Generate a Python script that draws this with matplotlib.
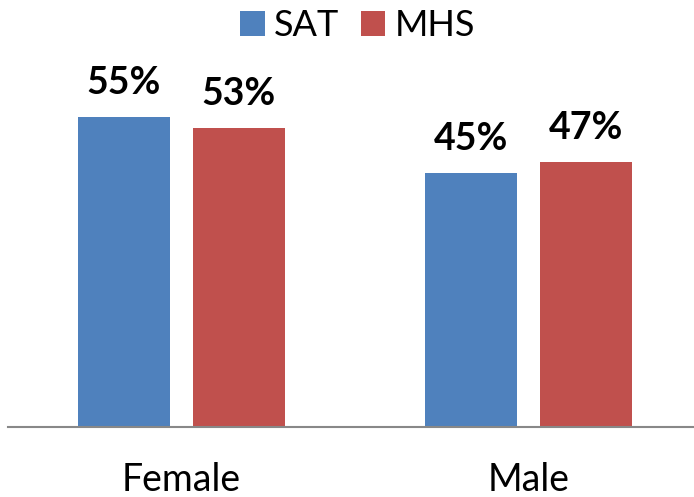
import matplotlib.pyplot as plt
import numpy as np

categories = ['Female', 'Male']
series = ['SAT', 'MHS']
sat = [55, 45]
mhs = [53, 47]
colors = ['#4F81BD', '#C0504D']

plt.rcParams['font.family'] = ['Lato', 'DejaVu Sans']

W, H = 694, 497
fig = plt.figure(figsize=(W / 100, H / 100), dpi=100)
# axes placed in pixel terms: baseline at y=427 px from top
ax = fig.add_axes([0, 70 / H, 1, 427 / H])

px_per_cat = 347
x0 = 181.5 / px_per_cat
ax.set_xlim(-x0, (W - 181.5) / px_per_cat)
ax.set_ylim(0, 427 / 5.64)

x = np.arange(len(categories))
bw = 92 / px_per_cat
off = 57.5 / px_per_cat

vals = [sat, mhs]
for i, name in enumerate(series):
    bars = ax.bar(x + (2 * i - 1) * off, vals[i], bw, color=colors[i],
                  label=name, edgecolor='none')
    for b, v in zip(bars, vals[i]):
        ax.annotate(f'{v}%', (b.get_x() + b.get_width() / 2, v),
                    xytext=(0, 23), textcoords='offset pixels',
                    ha='center', va='baseline', fontsize=27, fontweight='bold')

for s in ['top', 'right', 'left', 'bottom']:
    ax.spines[s].set_visible(False)
ax.axhline(0, xmin=8 / W, xmax=1, color='#888888', lw=1.5, clip_on=False)

ax.set_yticks([])
ax.set_xticks([])
for xi, c in zip(x, categories):
    ax.annotate(c, (xi, 0), xytext=(0, -64), textcoords='offset pixels',
                ha='center', va='baseline', fontsize=27, annotation_clip=False)

ax.legend(loc='center', bbox_to_anchor=(357.5 / W, 1 - 26 / H),
          bbox_transform=fig.transFigure, ncol=2, frameon=False,
          fontsize=26, handlelength=0.68, handleheight=0.68,
          handletextpad=0.25, columnspacing=0.6, borderpad=0)

fig.savefig('out.png', dpi=100)
